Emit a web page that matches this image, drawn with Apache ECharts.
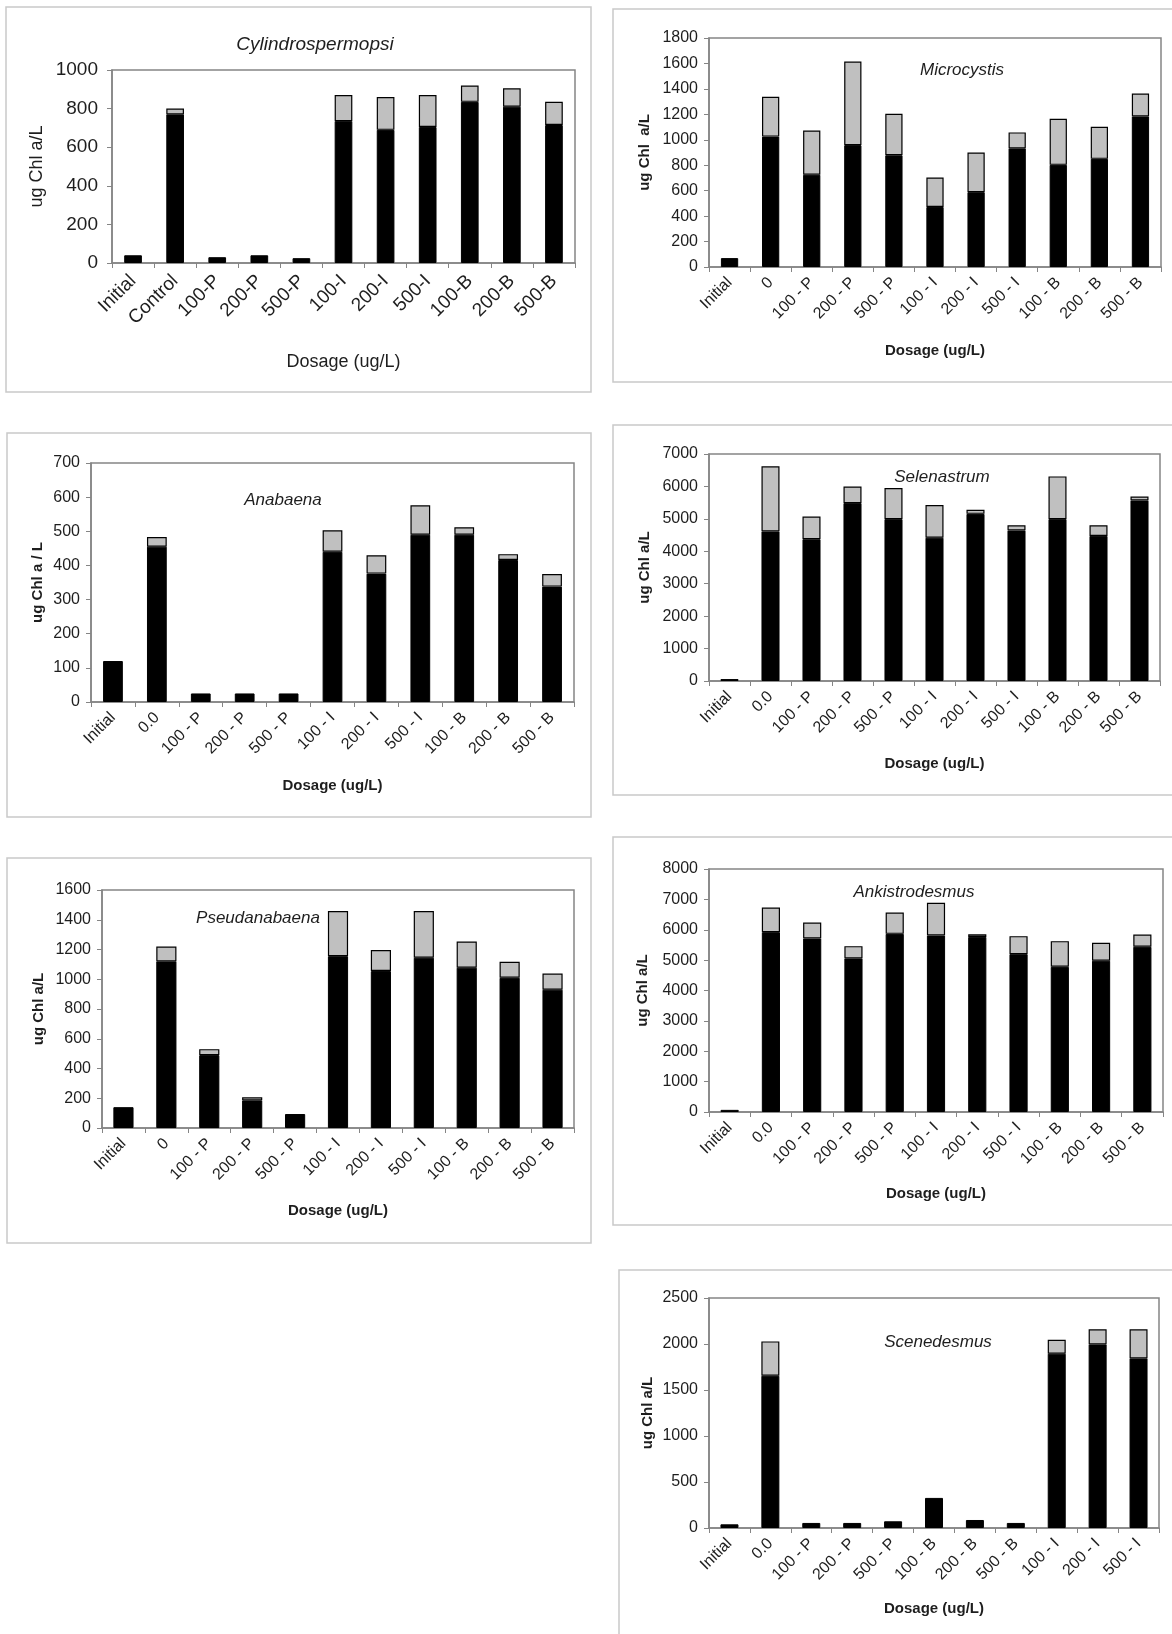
<!DOCTYPE html>
<html>
<head>
<meta charset="utf-8">
<script src="https://cdn.jsdelivr.net/npm/echarts@6/dist/echarts.min.js"></script>
<style>
html,body{margin:0;padding:0;background:#fff;}
#c{width:1172px;height:1634px;}
</style>
</head>
<body>
<div id="c"></div>
<script>
// ---------- DATA ----------
const cylCategories = ['Initial','Control','100-P','200-P','500-P','100-I','200-I','500-I','100-B','200-B','500-B'];
const cylBase  = [40, 770, 30, 40, 25, 735, 690, 705, 835, 810, 715];
const cylTotal = [40, 800, 30, 40, 25, 870, 860, 870, 920, 905, 835];

const micCategories = ['Initial','0','100 - P','200 - P','500 - P','100 - I','200 - I','500 - I','100 - B','200 - B','500 - B'];
const micBase  = [70, 1025, 725, 958, 878, 472, 588, 932, 803, 850, 1183];
const micTotal = [70, 1338, 1073, 1615, 1205, 703, 900, 1058, 1165, 1102, 1363];

const anaCategories = ['Initial','0.0','100 - P','200 - P','500 - P','100 - I','200 - I','500 - I','100 - B','200 - B','500 - B'];
const anaBase  = [120, 455, 25, 25, 25, 440, 376, 490, 490, 416, 338];
const anaTotal = [120, 483, 25, 25, 25, 503, 430, 576, 512, 433, 375];

const selCategories = ['Initial','0.0','100 - P','200 - P','500 - P','100 - I','200 - I','500 - I','100 - B','200 - B','500 - B'];
const selBase  = [60, 4610, 4370, 5485, 4990, 4420, 5155, 4640, 4990, 4475, 5565];
const selTotal = [60, 6620, 5070, 6000, 5950, 5425, 5280, 4805, 6310, 4805, 5690];

const psCategories = ['Initial','0','100 - P','200 - P','500 - P','100 - I','200 - I','500 - I','100 - B','200 - B','500 - B'];
const psBase  = [140, 1120, 490, 186, 94, 1155, 1055, 1145, 1078, 1010, 930];
const psTotal = [140, 1220, 530, 206, 94, 1458, 1196, 1458, 1254, 1118, 1038];

const ankCategories = ['Initial','0.0','100 - P','200 - P','500 - P','100 - I','200 - I','500 - I','100 - B','200 - B','500 - B'];
const ankBase  = [70, 5920, 5710, 5055, 5865, 5810, 5765, 5195, 4780, 4980, 5440];
const ankTotal = [70, 6730, 6235, 5460, 6565, 6890, 5850, 5790, 5625, 5570, 5840];

const scnCategories = ['Initial','0.0','100 - P','200 - P','500 - P','100 - B','200 - B','500 - B','100 - I','200 - I','500 - I'];
const scnBase  = [40, 1655, 55, 55, 73, 327, 87, 55, 1895, 1995, 1843];
const scnTotal = [40, 2028, 55, 55, 73, 327, 87, 55, 2046, 2160, 2160];

const titles = ['Cylindrospermopsi','Microcystis','Anabaena','Selenastrum','Pseudanabaena','Ankistrodesmus','Scenedesmus'];
const yNames = ['ug Chl a/L','ug Chl  a/L','ug Chl a / L','ug Chl a/L','ug Chl a/L','ug Chl a/L','ug Chl a/L'];
const xName = 'Dosage (ug/L)';
const yMax = [1000, 1800, 700, 7000, 1600, 8000, 2500];
const yStep = [200, 200, 100, 1000, 200, 1000, 500];

// ---------- LAYOUT ----------
const W = 1172, H = 1634;
const panels = [
  {cats: cylCategories, base: cylBase, total: cylTotal, g:[112,575,70,263], frame:[6,7,591,392], tc:[310,30], fs:19, nfs:18, tfs:19, bold:false, yGap:66, xGap:90, bw:'42%', lm:15},
  {cats: micCategories, base: micBase, total: micTotal, g:[709,1161,38,267], frame:[613,9,1185,382], tc:[957,57], fs:16, nfs:15, tfs:17, bold:true, yGap:57, xGap:76, bw:'42%', lm:13},
  {cats: anaCategories, base: anaBase, total: anaTotal, g:[91,574,463,702], frame:[7,433,591,817], tc:[278,487], fs:16, nfs:15, tfs:17, bold:true, yGap:46, xGap:76, bw:'45%', lm:13},
  {cats: selCategories, base: selBase, total: selTotal, g:[709,1160,454,681], frame:[613,425,1185,795], tc:[937,464], fs:16, nfs:15, tfs:17, bold:true, yGap:57, xGap:75, bw:'44%', lm:13},
  {cats: psCategories, base: psBase, total: psTotal, g:[102,574,890,1128], frame:[7,858,591,1243], tc:[253,905], fs:16, nfs:15, tfs:17, bold:true, yGap:56, xGap:75, bw:'47%', lm:13},
  {cats: ankCategories, base: ankBase, total: ankTotal, g:[709,1163,869,1112], frame:[613,837,1185,1225], tc:[909,879], fs:16, nfs:15, tfs:17, bold:true, yGap:59, xGap:74, bw:'44%', lm:13},
  {cats: scnCategories, base: scnBase, total: scnTotal, g:[709,1159,1298,1528], frame:[619,1270,1185,1650], tc:[933,1329], fs:16, nfs:15, tfs:17, bold:true, yGap:54, xGap:73, bw:'44%', lm:13}
];

const FONT = '"Liberation Sans", Arial, Helvetica, sans-serif';
const AXIS_GREY = '#858585';
const TEXT = '#1e1e1e';

const grid = [], xAxis = [], yAxis = [], series = [], title = [], graphics = [];

panels.forEach((p, i) => {
  const [l, r, t, b] = p.g;
  grid.push({left: l, top: t, width: r - l, height: b - t, show: true, borderColor: AXIS_GREY, borderWidth: 1.5, backgroundColor: 'transparent', containLabel: false, outerBoundsMode: 'none'});
  xAxis.push({
    type: 'category', gridIndex: i, data: p.cats, boundaryGap: true,
    axisLine: {show: true, lineStyle: {color: AXIS_GREY, width: 1.5}},
    axisTick: {show: true, alignWithLabel: false, length: 5, lineStyle: {color: AXIS_GREY}},
    axisLabel: {interval: 0, rotate: 45, margin: p.lm, color: TEXT, fontSize: p.fs, fontFamily: FONT},
    name: xName, nameLocation: 'middle', nameGap: p.xGap,
    nameTextStyle: {fontSize: p.nfs, fontWeight: p.bold ? 'bold' : 'normal', color: TEXT, fontFamily: FONT},
    splitLine: {show: false}
  });
  yAxis.push({
    type: 'value', gridIndex: i, min: 0, max: yMax[i], interval: yStep[i],
    axisLine: {show: true, lineStyle: {color: AXIS_GREY, width: 1.5}},
    axisTick: {show: true, length: 5, lineStyle: {color: AXIS_GREY}},
    axisLabel: {color: TEXT, fontSize: p.fs, fontFamily: FONT, margin: i === 0 ? 14 : 11, formatter: v => String(v)},
    splitLine: {show: false},
    name: yNames[i], nameLocation: 'middle', nameRotate: 90, nameGap: p.yGap,
    nameTextStyle: {fontSize: p.nfs, fontWeight: p.bold ? 'bold' : 'normal', color: TEXT, fontFamily: FONT}
  });
  const grey = p.total.map((v, k) => (v - p.base[k] > 0 ? v - p.base[k] : '-'));
  series.push({
    type: 'bar', xAxisIndex: i, yAxisIndex: i, stack: 'p' + i, barWidth: p.bw,
    data: p.base, itemStyle: {color: '#000', borderColor: '#000', borderWidth: 1},
    silent: true, animation: false
  });
  series.push({
    type: 'bar', xAxisIndex: i, yAxisIndex: i, stack: 'p' + i, barWidth: p.bw,
    data: grey, itemStyle: {color: '#c0c0c0', borderColor: '#000', borderWidth: 1.2},
    silent: true, animation: false
  });
  title.push({
    text: titles[i], left: p.tc[0], top: p.tc[1], textAlign: 'center',
    textStyle: {fontSize: p.tfs, fontStyle: 'italic', fontWeight: 'normal', color: TEXT, fontFamily: FONT}
  });
  const [fx0, fy0, fx1, fy1] = p.frame;
  graphics.push({
    type: 'rect', z: -10, silent: true,
    shape: {x: fx0, y: fy0, width: fx1 - fx0, height: fy1 - fy0},
    style: {fill: 'none', stroke: '#c9c9c9', lineWidth: 1.5}
  });
});

const chart = echarts.init(document.getElementById('c'), null, {renderer: 'canvas', width: W, height: H});
chart.setOption({
  backgroundColor: '#fff',
  animation: false,
  title, grid, xAxis, yAxis, series,
  graphic: graphics
});
</script>
</body>
</html>
